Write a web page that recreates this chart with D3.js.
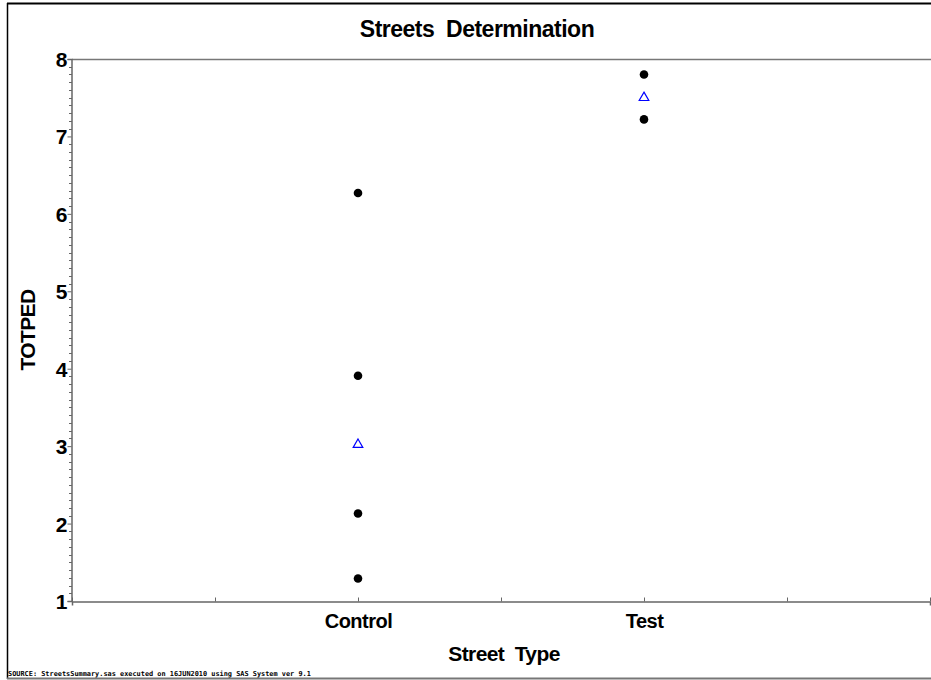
<!DOCTYPE html>
<html><head><meta charset="utf-8">
<script src="https://cdn.jsdelivr.net/npm/d3@7/dist/d3.min.js"></script>
<style>body{margin:0;background:#fff}svg{display:block}</style>
</head><body>
<script>
const categories = ["Control", "Test"];
const catPositions = [2, 4];
const xTicks = [0, 1, 2, 3, 4, 5, 6];
const controlValues = [6.27, 3.91, 2.13, 1.29];
const testValues = [7.80, 7.22];
const centerValues = [3.02, 7.50];
const yTicks = [1, 2, 3, 4, 5, 6, 7, 8];
const title = "Streets  Determination";
const xLabel = "Street  Type";
const yLabel = "TOTPED";
const footnote = "SOURCE: StreetsSummary.sas executed on 16JUN2010 using SAS System ver 9.1";

const W = 931, H = 680;
const m = {left: 72, right: 930, top: 59, bottom: 601};
const svg = d3.select("body").append("svg").attr("width", W).attr("height", H);
const font = "'Liberation Sans', Arial, sans-serif";

// outer border
svg.append("line").attr("x1",7).attr("x2",W).attr("y1",3.5).attr("y2",3.5).attr("stroke","#000").attr("stroke-width",2);
svg.append("line").attr("x1",7.5).attr("x2",7.5).attr("y1",3).attr("y2",679).attr("stroke","#000").attr("stroke-width",1.5);
svg.append("line").attr("x1",7).attr("x2",W).attr("y1",678.5).attr("y2",678.5).attr("stroke","#777").attr("stroke-width",2);

const x = d3.scaleLinear().domain([0, 6]).range([m.left, m.right]);
const y = d3.scaleLinear().domain([1, 8]).range([m.bottom, m.top]);

// top frame line
svg.append("line").attr("x1",m.left).attr("x2",m.right+1).attr("y1",m.top+0.5).attr("y2",m.top+0.5).attr("stroke","#777").attr("stroke-width",1.5);

// x axis
const xAxis = d3.axisBottom(x).tickValues(xTicks).tickSize(4).tickFormat(d => {
  const i = catPositions.indexOf(d); return i >= 0 ? categories[i] : "";
});
const gx = svg.append("g").attr("transform", `translate(0,${m.bottom+0.5})`).call(xAxis);
gx.select(".domain").attr("stroke","#666").attr("stroke-width",1.5);
gx.selectAll(".tick line").attr("stroke","#666").attr("y1",0).attr("y2",4).attr("transform","translate(0,-4)");
gx.selectAll(".tick text").attr("y", 26).attr("dy", 0).attr("font-family", font).attr("font-size", 20).attr("font-weight", "bold").attr("fill","#000").attr("letter-spacing","-0.5");

// y axis
const yAxis = d3.axisLeft(y).tickValues(yTicks).tickSize(4).tickFormat(d3.format("d"));
const gy = svg.append("g").attr("transform", `translate(${m.left-0.5},0)`).call(yAxis);
gy.select(".domain").attr("stroke","#666").attr("stroke-width",1.5);
gy.selectAll(".tick line").attr("stroke","#666");
gy.selectAll(".tick text").attr("x", -4).attr("dy","0.36em").attr("font-family", font).attr("font-size", 21).attr("font-weight","bold").attr("fill","#000");
// minor ticks
const minor = d3.range(10, 80).filter(v => v % 10 !== 0).map(v => v / 10);
svg.append("g").selectAll("line").data(minor).join("line")
  .attr("x1", m.left - 3).attr("x2", m.left).attr("y1", d => Math.round(y(d)) + 0.5).attr("y2", d => Math.round(y(d)) + 0.5)
  .attr("stroke", "#666").attr("stroke-width", 1);

// title and labels
svg.append("text").attr("x", 477).attr("y", 37).attr("text-anchor","middle").attr("font-family", font)
  .attr("font-size", 23).attr("font-weight","bold").attr("letter-spacing","-0.5").style("white-space","pre").text(title);
svg.append("text").attr("x", 504).attr("y", 661).attr("text-anchor","middle").attr("font-family", font)
  .attr("font-size", 21).attr("font-weight","bold").attr("letter-spacing","-0.6").style("white-space","pre").text(xLabel);
svg.append("text").attr("transform", "translate(35,330) rotate(-90)").attr("text-anchor","middle").attr("font-family", font)
  .attr("font-size", 21).attr("font-weight","bold").attr("letter-spacing","-0.6").text(yLabel);
svg.append("text").attr("x", 8).attr("y", 676).attr("font-family", "'DejaVu Sans Mono', monospace")
  .attr("font-size", 6.9).attr("font-weight","bold").text(footnote);

// points
const pts = [];
controlValues.forEach(v => pts.push({c: 2, v}));
testValues.forEach(v => pts.push({c: 4, v}));
svg.append("g").selectAll("circle").data(pts).join("circle")
  .attr("cx", d => x(d.c)).attr("cy", d => y(d.v)).attr("r", 4.3).attr("fill", "#000");

const tri = d3.symbol().type(d3.symbolTriangle).size(40);
svg.append("g").selectAll("path").data(centerValues).join("path")
  .attr("d", tri).attr("transform", (d, i) => `translate(${x(catPositions[i])},${y(d)})`)
  .attr("fill", "none").attr("stroke", "#0000ff").attr("stroke-width", 1.2);
</script>
</body></html>
